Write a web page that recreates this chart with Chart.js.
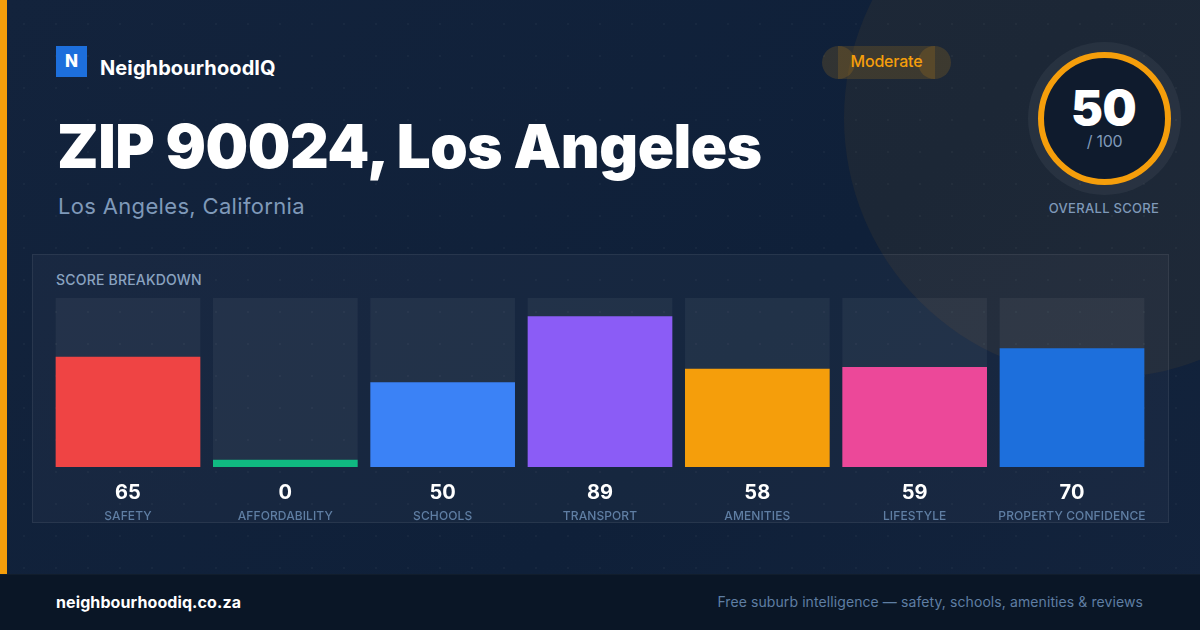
<!DOCTYPE html>
<html>
<head>
<meta charset="utf-8">
<script src="https://cdn.jsdelivr.net/npm/chart.js@4"></script>
<style>
  html, body { margin: 0; padding: 0; }
  body { width: 1200px; height: 630px; overflow: hidden; position: relative; font-family: Inter, sans-serif; background: #0f2039; }
  .abs { position: absolute; white-space: nowrap; }
  #bg { left: 0; top: 0; width: 1200px; height: 630px; background: linear-gradient(135deg, #13233c 0%, #0f2039 60%, #13233c 100%); }
  #dots { left: 0; top: 0; width: 1200px; height: 630px; background-image: radial-gradient(rgba(255,255,255,0.03) 1px, transparent 1.5px); background-size: 32px 32px; background-position: 8px 8px; }
  #glow { left: 844px; top: -142px; width: 520px; height: 520px; border-radius: 50%; background: rgba(245,158,11,0.06); }
  #strip { left: 0; top: 0; width: 7px; height: 630px; background: #f59e0b; }
  #logo { left: 56px; top: 46px; width: 31px; height: 31px; background: #1d6fdc; color: #fff; font-weight: 800; font-size: 17px; line-height: 30px; text-align: center; }
  #brand { left: 100px; top: 56px; font-size: 20px; line-height: 24px; font-weight: 700; color: #fff; letter-spacing: 0.1px; }
  #title { left: 57px; top: 110px; font-size: 60px; line-height: 72px; font-weight: 900; color: #fff; letter-spacing: -0.48px; }
  #sub { left: 58px; top: 192px; font-size: 22px; line-height: 28px; color: #7f99b9; letter-spacing: 0.33px; }
  .pill { background: rgba(245,158,11,0.15); }
  #pillL { left: 822px; top: 46px; width: 33px; height: 33px; border-radius: 50%; }
  #pillR { left: 918px; top: 46px; width: 33px; height: 33px; border-radius: 50%; }
  #pillM { left: 838px; top: 46px; width: 97px; height: 33px; }
  #pillT { left: 838px; top: 46px; width: 97px; line-height: 31px; text-align: center; font-size: 16px; font-weight: 500; color: #f59e0b; letter-spacing: -0.2px; }
  #ringBack { left: 1028px; top: 42px; width: 153px; height: 153px; border-radius: 50%; background: rgba(255,255,255,0.05); }
  #ring { left: 1038px; top: 52px; width: 121px; height: 121px; border-radius: 50%; border: 6px solid #f59e0b; background: #0f1b2d; }
  #scoreNum { left: 1037px; width: 133px; top: 80px; text-align: center; font-size: 48px; line-height: 56px; font-weight: 900; color: #fff; letter-spacing: -0.5px; }
  #scoreOf { left: 1038px; width: 133px; top: 131px; text-align: center; font-size: 16px; line-height: 20px; color: #7f99b9; letter-spacing: -0.3px; }
  #scoreCap { left: 1004px; width: 200px; top: 199px; text-align: center; font-size: 13px; line-height: 18px; font-weight: 500; color: #7f99b9; letter-spacing: 0.3px; }
  #panel { left: 32px; top: 254px; width: 1135px; height: 267px; background: rgba(255,255,255,0.03); border: 1px solid rgba(255,255,255,0.07); }
  #panelT { left: 56px; top: 271px; font-size: 14px; line-height: 18px; font-weight: 500; color: #8aa3c0; letter-spacing: 0.2px; }
  #footer { left: 0; top: 574px; width: 1200px; height: 56px; background: #0a1626; border-top: 1px solid rgba(255,255,255,0.03); box-sizing: border-box; }
  #site { left: 56px; top: 592px; font-size: 16px; line-height: 20px; font-weight: 700; color: #fff; letter-spacing: 0.1px; }
  #tag { right: 57px; top: 593px; font-size: 14px; line-height: 18px; color: #5f7ea3; letter-spacing: 0.09px; }
  #chartWrap { left: 0; top: 0; width: 1200px; height: 630px; }
</style>
</head>
<body>
<div class="abs" id="bg"></div>
<div class="abs" id="glow"></div>
<div class="abs" id="dots"></div>
<div class="abs" id="strip"></div>
<div class="abs" id="logo">N</div>
<div class="abs" id="brand">NeighbourhoodIQ</div>
<div class="abs" id="title">ZIP 90024, Los Angeles</div>
<div class="abs" id="sub">Los Angeles, California</div>
<div class="abs pill" id="pillL"></div>
<div class="abs pill" id="pillR"></div>
<div class="abs pill" id="pillM"></div>
<div class="abs" id="pillT">Moderate</div>
<div class="abs" id="ringBack"></div>
<div class="abs" id="ring"></div>
<div class="abs" id="scoreNum">50</div>
<div class="abs" id="scoreOf">/ 100</div>
<div class="abs" id="scoreCap">OVERALL SCORE</div>
<div class="abs" id="panel"></div>
<div class="abs" id="panelT">SCORE BREAKDOWN</div>
<div class="abs" id="footer"></div>
<div class="abs" id="site">neighbourhoodiq.co.za</div>
<div class="abs" id="tag">Free suburb intelligence — safety, schools, amenities &amp; reviews</div>
<div class="abs" id="chartWrap"><canvas id="chart" width="1200" height="630"></canvas></div>

<script>
const categories = ["SAFETY", "AFFORDABILITY", "SCHOOLS", "TRANSPORT", "AMENITIES", "LIFESTYLE", "PROPERTY CONFIDENCE"];
const scores = [65, 0, 50, 89, 58, 59, 70];
const trackValues = [100, 100, 100, 100, 100, 100, 100];
const barColors = ["#ef4444", "#10b981", "#3b82f6", "#8b5cf6", "#f59e0b", "#ec4899", "#1d6fdc"];

// letter spacing for the axis text, chart.js has no option for it
const spacing = {
  id: "spacing",
  beforeDraw(chart){ chart.ctx.letterSpacing = "0.1px"; }
};

new Chart(document.getElementById("chart"), {
  type: "bar",
  data: {
    labels: categories,
    datasets: [
      // Value bars first so they sit over the track
      { data: scores, backgroundColor: barColors, barThickness: 144, minBarLength: 7, order: 1 },
      { data: trackValues, backgroundColor: "rgba(255,255,255,0.05)", barThickness: 144, order: 2 }
    ]
  },
  options: {
    responsive: false,
    animation: false,
    layout: { padding: { left: 49.33, right: 49.33, top: 298, bottom: 0 } },
    plugins: { legend: { display: false }, tooltip: { enabled: false } },
    datasets: { bar: { grouped: false } },
    scales: {
      y: { display: false, min: 0, max: 100 },
      x: {
        weight: 1,
        grid: { display: false, drawTicks: false },
        border: { display: false },
        afterFit(scale){ scale.height = 38; },
        ticks: {
          padding: 14,
          color: "#ffffff",
          font: { family: "Inter", size: 20, weight: "700" },
          maxRotation: 0,
          autoSkip: false,
          callback: (v, i) => String(scores[i])
        }
      },
      names: {
        type: "category",
        position: "bottom",
        weight: 2,
        labels: categories,
        grid: { display: false, drawTicks: false },
        border: { display: false },
        afterFit(scale){ scale.height = 125; },
        ticks: {
          padding: 4,
          color: "#5f7ea3",
          font: { family: "Inter", size: 12, weight: "500" },
          maxRotation: 0,
          autoSkip: false
        }
      }
    }
  },
  plugins: [spacing]
});
</script>
</body>
</html>
